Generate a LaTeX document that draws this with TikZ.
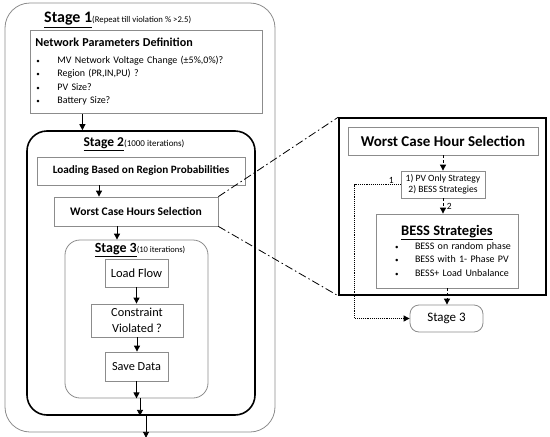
\documentclass[tikz,border=0pt]{standalone}
\usepackage{fontspec}
\setmainfont{Carlito}
\usetikzlibrary{arrows.meta,positioning}
\definecolor{frgray}{RGB}{140,140,140}
\newcommand{\fsz}[2]{\fontsize{#1}{#2}\selectfont}
\newcommand{\bul}{\hspace*{1pt}\makebox[21pt][l]{{\fsz{7}{7}\textbullet}}}
\tikzset{
    stage/.style={
        draw=#1,fill=none
    },
    stage/.default=frgray,
    block/.style={
        draw=frgray,line width=0.8pt,fill=white,align=center,inner sep=2pt
    },
    arrow/.style={
        -{Triangle[length=6pt,width=6pt]},line width=0.9pt,draw=black
    },
    dasharrow/.style={
        arrow,densely dashed
    },
    dotarrow/.style={
        arrow,densely dotted
    },
    zoomline/.style={
        line width=0.8pt,dash pattern=on 8pt off 3pt on 1.5pt off 3pt
    }
}

\begin{document}
\begin{tikzpicture}[x=1pt,y=-1pt]
\useasboundingbox (0,0) rectangle (550,437);

\node[stage,line width=0.8pt,rounded corners=25pt,
minimum width=270pt,minimum height=429pt] (st1) at (140,217.5) {};
\node[anchor=west,inner sep=0pt] (t1) at (44,20)
{{\fsz{16}{18}\bfseries\underline{Stage 1}}{\fsz{8.7}{10}(Repeat till violation \% >2.5)}};

\node[
block,anchor=north west,text width=222pt,align=left,
minimum height=83pt,inner sep=5pt,font=\fsz{10}{13.5}
]
(net) at (30,30)
{
{\fsz{12.1}{15}\bfseries Network Parameters Definition}\\[3pt]
\bul MV Network Voltage Change (±5\%,0\%)?\\
\bul Region (PR,IN,PU) ?\\
\bul PV Size?\\
\bul Battery Size?
};

\node[stage=black,line width=1.6pt,rounded corners=20pt,
minimum width=228pt,minimum height=284pt] (st2) at (141,273) {};
\node[inner sep=0pt] (t2) at (134,144)
{{\fsz{13.5}{15}\bfseries\underline{Stage 2}}{\fsz{9}{10}(1000 iterations)}};

\node[block,minimum width=208pt,minimum height=28pt,font=\fsz{11.2}{13}\bfseries]
(load) at (141,171) {Loading Based on Region Probabilities};
\node[block,minimum width=164pt,minimum height=29pt,font=\fsz{11.6}{13}\bfseries]
(wc) at (136,211.5) {Worst Case Hours Selection};

\node[stage,line width=0.8pt,rounded corners=15pt,
minimum width=143pt,minimum height=158pt] (st3) at (136.5,319) {};
\node[inner sep=0pt] (t3) at (140,250)
{{\fsz{14}{15}\bfseries\underline{Stage 3}}{\fsz{8.5}{10}(10 iterations)}};

\node[block,minimum width=63pt,minimum height=28pt,font=\fsz{12.5}{14}]
(lf) at (136.5,273) {Load Flow};
\node[block,minimum width=92pt,minimum height=33pt,font=\fsz{12.3}{16.5}]
(cv) at (137,320.5) {Constraint\\Violated ?};
\node[block,minimum width=63pt,minimum height=29pt,font=\fsz{12.3}{14}]
(sd) at (136.5,366.5) {Save Data};

\draw[arrow]([xshift=-64pt]net.south)--([xshift=-64pt]net.south |- st2.north);
\draw[arrow]([xshift=-42pt]load.south)--([xshift=-42pt]load.south |- wc.north);
\draw[arrow]([xshift=-19pt]wc.south)--([xshift=-19pt]wc.south |- st3.north);
\draw[arrow](lf.south)--(lf.south |- cv.north);
\draw[arrow](cv.south)--(cv.south |- sd.north);
\draw[arrow](sd.south)--(sd.south |- st3.south);
\draw[arrow]([xshift=3.5pt]st3.south)--([xshift=3.5pt]st3.south |- st2.south);
\draw[arrow]([xshift=5pt]st2.south)--++(0,22);

\node[draw=black,line width=1.6pt,minimum width=207pt,minimum height=177pt]
(detail) at (442.5,206.5) {};
\node[block,minimum width=190pt,minimum height=28pt,font=\fsz{15}{17}\bfseries]
(wch) at (443,141) {Worst Case Hour Selection};
\node[block,minimum width=84pt,minimum height=27pt,font=\fsz{9.6}{11.5}]
(strat) at (443,184.5) {1) PV Only Strategy\\2) BESS Strategies};

\node[
block,text width=132pt,minimum height=74pt,inner sep=5pt,
align=left,font=\fsz{10}{13.5}
]
(bess) at (447,251)
{
\makebox[132pt]{\fsz{14.5}{17}\bfseries\underline{BESS Strategies}}\\
\hspace*{14pt}\makebox[20pt][l]{{\fsz{7}{7}\textbullet}}BESS on random phase\\
\hspace*{14pt}\makebox[20pt][l]{{\fsz{7}{7}\textbullet}}BESS with 1- Phase PV\\
\hspace*{14pt}\makebox[20pt][l]{{\fsz{7}{7}\textbullet}}BESS+ Load Unbalance
};

\node[block,rounded corners=9pt,minimum width=73pt,minimum height=27pt,font=\fsz{13}{15}]
(s3r) at (446.5,318.5) {Stage 3};

\draw[dasharrow](wch.south)--(strat.north);
\draw[dasharrow](strat.south)--node[right,font=\fsz{9.5}{10}]{2}(strat.south |- bess.north);
\draw[dasharrow](bess.south)--(bess.south |- s3r.north);
\draw[dotarrow](strat.west)--node[above,pos=0.2,inner sep=1pt,font=\fsz{9.5}{10}]{1}++(-46,0)|-(s3r.west);

\draw[zoomline](wc.north east)--(detail.north west);
\draw[zoomline](wc.south east)--(detail.south west);

\end{tikzpicture}
\end{document}
